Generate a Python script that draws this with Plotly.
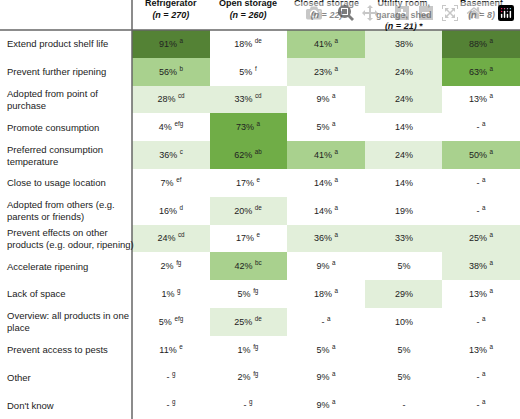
import plotly.graph_objects as go

columns = ["<b>Refrigerator</b><br><b><i>(n = 270)</i></b>", "<b>Open storage</b><br><b><i>(n = 260)</i></b>",
           "<b>Closed storage</b><br><b><i>(n = 22)</i></b>", "<b>Utility room,</b><br><b>garage, shed</b><br><b><i>(n = 21)</i> *</b>",
           "<b>Basement</b><br><b><i>(n = 8)</i></b>"]
rows = ["Extend product shelf life", "Prevent further ripening", "Adopted from point of<br>purchase",
        "Promote consumption", "Preferred consumption<br>temperature", "Close to usage location",
        "Adopted from others (e.g.<br>parents or friends)", "Prevent effects on other<br>products (e.g. odour, ripening)",
        "Accelerate ripening", "Lack of space", "Overview: all products in one<br>place",
        "Prevent access to pests", "Other", "Don't know"]
refrigerator = [91, 56, 28, 4, 36, 7, 16, 24, 2, 1, 5, 11, None, None]
refrigerator_sig = ["a", "b", "cd", "efg", "c", "ef", "d", "cd", "fg", "g", "efg", "e", "g", "g"]
open_storage = [18, 5, 33, 73, 62, 17, 20, 17, 42, 5, 25, 1, 2, None]
open_sig = ["de", "f", "cd", "a", "ab", "e", "de", "e", "bc", "fg", "de", "fg", "fg", "g"]
closed_storage = [41, 23, 9, 5, 41, 14, 14, 36, 9, 18, None, 5, 9, 9]
closed_sig = ["a"] * 14
utility = [38, 24, 24, 14, 24, 14, 19, 33, 5, 29, 10, 5, 5, None]
utility_sig = [""] * 14
basement = [88, 63, 13, None, 50, None, None, 25, 38, 13, None, 13, None, None]
basement_sig = ["a"] * 14

series = [(refrigerator, refrigerator_sig), (open_storage, open_sig), (closed_storage, closed_sig),
          (utility, utility_sig), (basement, basement_sig)]

z = [[(s[0][r] or 0) for s in series] for r in range(len(rows))]
text = []
for r in range(len(rows)):
    row = []
    for vals, sig in series:
        v = vals[r]
        t = f"{v}%" if v is not None else "-"
        if sig[r]:
            t += f" <sup>{sig[r]}</sup>"
        row.append(t)
    text.append(row)

cs = [[0, "#ffffff"], [0.2, "#ffffff"], [0.2, "#e2efda"], [0.4, "#e2efda"], [0.4, "#a9d18e"],
      [0.6, "#a9d18e"], [0.6, "#70ad47"], [0.8, "#70ad47"], [0.8, "#548235"], [1, "#548235"]]

fig = go.Figure(go.Heatmap(z=z, x=list(range(5)), y=list(range(len(rows))), colorscale=cs,
                           zmin=0, zmax=100, showscale=False, text=text, texttemplate="%{text}",
                           textfont=dict(family="Liberation Sans, Arial", size=9, color="#222"),
                           hoverinfo="skip", xgap=0, ygap=0))

W, H = 520, 419
x0 = 132 / W
ytop = 389 / H
fig.update_layout(width=W, height=H, margin=dict(l=0, r=0, t=0, b=0), paper_bgcolor="white",
                  plot_bgcolor="white",
                  xaxis=dict(domain=[x0, 1], range=[-0.5, 4.5], visible=False),
                  yaxis=dict(domain=[0, ytop], range=[len(rows) - 0.5, -0.5], visible=False),
                  font=dict(family="Liberation Sans, Arial", size=9, color="#222"))
for i, r in enumerate(rows):
    fig.add_annotation(x=5 / W, xref="paper", y=i, yref="y", text=r, showarrow=False,
                       xanchor="left", align="left", font=dict(size=9.5))
for j, c in enumerate(columns):
    fig.add_annotation(x=j, xref="x", y=1, yref="paper", yanchor="top", text=c, showarrow=False,
                       align="center", font=dict(size=9, color="#111"), yshift=4)

fig.add_shape(type="line", xref="paper", yref="paper", x0=0, x1=1, y0=ytop, y1=ytop,
              line=dict(color="#666", width=1.5))
fig.add_shape(type="line", xref="paper", yref="paper", x0=x0, x1=x0, y0=0, y1=1,
              line=dict(color="#666", width=1.5))
fig.write_html("out.html", post_script="document.body.style.margin='0';document.body.style.overflow='hidden';")
